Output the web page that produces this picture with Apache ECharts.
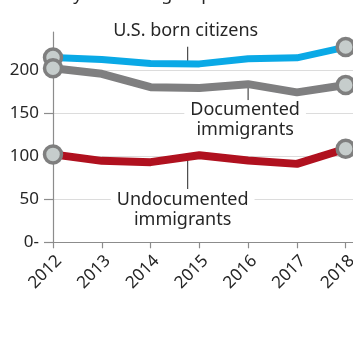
<!DOCTYPE html>
<html>
<head>
<meta charset="utf-8">
<script src="https://cdn.jsdelivr.net/npm/echarts@6/dist/echarts.min.js"></script>
<style>
  html, body { margin: 0; padding: 0; background: #ffffff; }
  #chart { width: 353px; height: 353px; }
</style>
</head>
<body>
<div id="chart"></div>
<script>
// Years on the horizontal axis
const years = ['2012', '2013', '2014', '2015', '2016', '2017', '2018'];

// Rates per group, one value per year
const usBorn = [214.5, 212, 207.5, 207, 213, 214, 226.5];
const documented = [202, 195.5, 180, 179, 183.5, 174, 182.5];
const undocumented = [102, 94.5, 93, 101, 95, 91, 108.5];

// Vertical axis
const yTicks = [0, 50, 100, 150, 200];
const yMax = 244;

const yearNums = years.map(Number);
const xMin = yearNums[0];
const xMax = yearNums[yearNums.length - 1] + 0.15;

const FONT = '"Noto Sans", sans-serif';
const TEXT = '#262626';
const AXIS = '#8c8c8c';
const GRID = '#dcdcdc';
const MARKER_FILL = '#c6cdcc';
const MARKER_EDGE = '#7f7f7f';

const lastIndex = years.length - 1;
// circles only at the two ends of each line
const endSymbol = (value, params) =>
  (params.dataIndex === 0 || params.dataIndex === lastIndex) ? 'circle' : 'none';

function lineSeries(name, values, color, width) {
  return {
    name: name,
    type: 'line',
    data: values.map((v, i) => [yearNums[i], v]),
    symbol: endSymbol,
    symbolSize: 17,
    showAllSymbol: true,
    lineStyle: { color: color, width: width, join: 'round', cap: 'round' },
    itemStyle: { color: MARKER_FILL, borderColor: MARKER_EDGE, borderWidth: 3.5 },
    emphasis: { disabled: true },
    animation: false,
    clip: false,
    z: 3
  };
}

const chart = echarts.init(document.getElementById('chart'), null, { renderer: 'canvas' });

chart.setOption({
  animation: false,
  title: {
    text: 'Crime rate by resident group',
    left: -36,
    top: -19,
    textStyle: { fontFamily: FONT, fontSize: 18, fontWeight: 'normal', color: TEXT }
  },
  grid: {
    left: 53, right: 0, top: 32, bottom: 110.7,
    containLabel: false,
    outerBoundsMode: 'none'
  },
  xAxis: {
    type: 'value',
    min: xMin,
    max: xMax,
    interval: 1,
    axisLine: { lineStyle: { color: AXIS, width: 1.2 } },
    axisTick: { length: 6, customValues: yearNums, lineStyle: { color: AXIS, width: 1.2 } },
    axisLabel: {
      customValues: yearNums,
      rotate: 45,
      margin: 10,
      align: 'right',
      verticalAlign: 'top',
      fontFamily: FONT,
      fontSize: 17,
      color: TEXT,
      formatter: v => String(v)
    },
    splitLine: { show: false }
  },
  yAxis: {
    type: 'value',
    min: 0,
    max: yMax,
    interval: 50,
    axisLine: { show: true, lineStyle: { color: AXIS, width: 1.2 } },
    axisTick: {
      show: true,
      length: 9,
      customValues: yTicks,
      lineStyle: { color: AXIS, width: 1.2 }
    },
    axisLabel: {
      customValues: yTicks,
      margin: 14,
      fontFamily: FONT,
      fontSize: 17,
      color: TEXT,
      formatter: v => (v === 0 ? '0-' : String(v))
    },
    splitLine: {
      show: true,
      lineStyle: { color: [GRID, GRID, GRID, GRID, GRID, 'rgba(0,0,0,0)'], width: 1 }
    }
  },
  series: [
    lineSeries('U.S. born citizens', usBorn, '#0aa9e6', 7),
    lineSeries('Documented immigrants', documented, '#7f7f80', 8),
    lineSeries('Undocumented immigrants', undocumented, '#b0111f', 8)
  ]
});

// Pixel position on a line at a fractional index along the years
function onLine(values, pos) {
  const i = Math.floor(pos);
  const j = Math.min(i + 1, lastIndex);
  const t = pos - i;
  const a = chart.convertToPixel({ gridIndex: 0 }, [yearNums[i], values[i]]);
  const b = chart.convertToPixel({ gridIndex: 0 }, [yearNums[j], values[j]]);
  return [a[0] + (b[0] - a[0]) * t, a[1] + (b[1] - a[1]) * t];
}

function label(text, x, y) {
  return {
    type: 'text',
    x: x,
    y: y,
    z: 5,
    style: {
      text: text,
      fontFamily: FONT,
      fontSize: 18,
      lineHeight: 20,
      fill: TEXT,
      align: 'center',
      verticalAlign: 'top',
      backgroundColor: '#ffffff',
      padding: [0, 6, 0, 6]
    }
  };
}

function leader(x, y1, y2) {
  return {
    type: 'line',
    z: 1,
    shape: { x1: x, y1: y1, x2: x, y2: y2 },
    style: { stroke: '#4a4a4a', lineWidth: 1.2 }
  };
}

const pUS = onLine(usBorn, 2.76);
const pDoc = onLine(documented, 4);
const pUnd = onLine(undocumented, 2.76);

chart.setOption({
  graphic: [
    leader(pUS[0], pUS[1], pUS[1] - 17),
    label('U.S. born citizens', pUS[0] - 2, pUS[1] - 43),
    leader(pDoc[0], pDoc[1], pDoc[1] + 16),
    label('Documented\nimmigrants', pDoc[0] - 3, pDoc[1] + 16),
    leader(pUnd[0], pUnd[1], pUnd[1] + 32),
    label('Undocumented\nimmigrants', pUnd[0] - 5, pUnd[1] + 33)
  ]
});
</script>
</body>
</html>
